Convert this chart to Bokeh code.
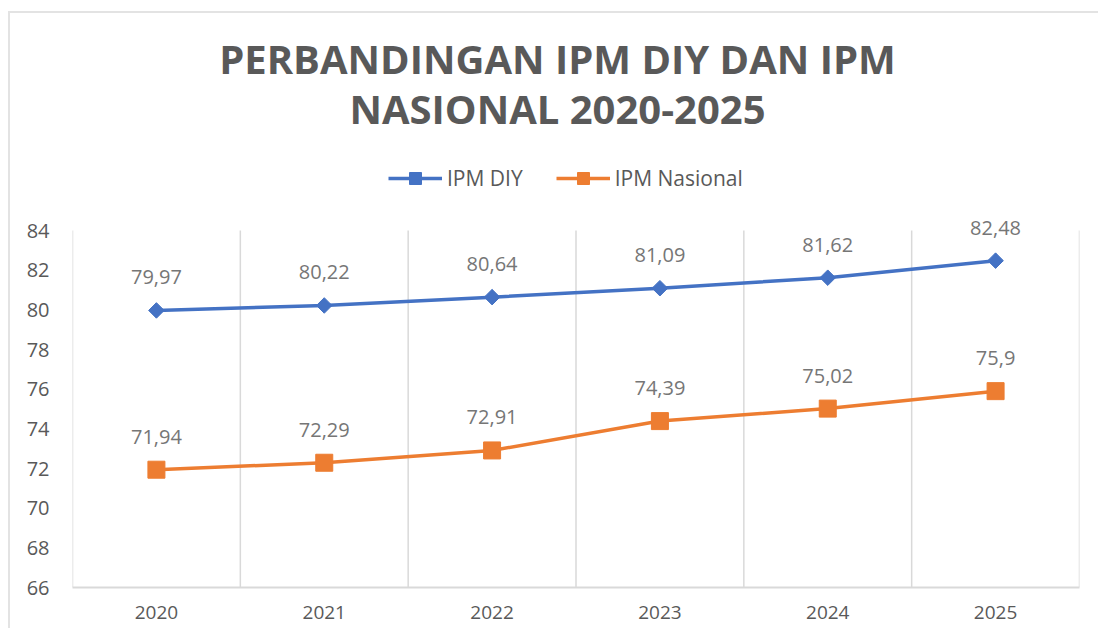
from bokeh.plotting import figure
from bokeh.models import Range1d, FixedTicker, Label, Legend, LegendItem, ColumnDataSource
from bokeh.embed import file_html
from bokeh.resources import INLINE
from bokeh.core.properties import value
import math

# ---- data ----
years = ["2020", "2021", "2022", "2023", "2024", "2025"]
ipm_diy = [79.97, 80.22, 80.64, 81.09, 81.62, 82.48]
ipm_nasional = [71.94, 72.29, 72.91, 74.39, 75.02, 75.9]
y_ticks = [66, 68, 70, 72, 74, 76, 78, 80, 82, 84]
title_line1 = "PERBANDINGAN IPM DIY DAN IPM"
title_line2 = "NASIONAL 2020-2025"


def fmt(v):
    return f"{v:g}".replace(".", ",")


xpos = [i + 0.5 for i in range(len(years))]
src = ColumnDataSource(dict(
    x=xpos,
    diy=ipm_diy,
    nas=ipm_nasional,
    diy_lbl=[fmt(v) for v in ipm_diy],
    nas_lbl=[fmt(v) for v in ipm_nasional],
))

FONT = "Open Sans"
BLUE = "#4472C4"
ORANGE = "#ED7D31"
GRAY_TXT = "#595959"
GRID = "#d9d9d9"

W, H = 1090, 617
FRAME_H = 574          # frame spans the whole height above the x axis
AXIS_TOP_PX = 217      # pixel row (from top) of the 84 line
y_top = y_ticks[-1] + AXIS_TOP_PX * (y_ticks[-1] - y_ticks[0]) / (FRAME_H - AXIS_TOP_PX)

p = figure(width=W, height=H, output_backend="svg", toolbar_location=None,
           x_range=Range1d(0, len(years)), y_range=Range1d(y_ticks[0], y_top),
           min_border_left=62, min_border_right=21, min_border_bottom=H - FRAME_H,
           min_border_top=0)

p.outline_line_color = None
p.background_fill_color = "white"
p.border_fill_color = "white"

# axes
p.xaxis.ticker = FixedTicker(ticks=xpos)
p.xaxis.major_label_overrides = {x: y for x, y in zip(xpos, years)}
p.xaxis.major_tick_line_color = None
p.xaxis.minor_tick_line_color = None
p.xaxis.axis_line_color = GRID
p.xaxis.axis_line_width = 2
p.xaxis.major_label_text_font = FONT
p.xaxis.major_label_text_font_size = "19px"
p.xaxis.major_label_text_color = GRAY_TXT
p.xaxis.major_label_standoff = 12

p.yaxis.ticker = FixedTicker(ticks=y_ticks)
p.yaxis.major_tick_line_color = None
p.yaxis.minor_tick_line_color = None
p.yaxis.axis_line_color = None
p.yaxis.major_label_text_font = FONT
p.yaxis.major_label_text_font_size = "20px"
p.yaxis.major_label_text_color = GRAY_TXT
p.yaxis.major_label_standoff = 17

p.ygrid.grid_line_color = None
p.xgrid.grid_line_color = None

# vertical category-boundary gridlines, from the lowest to the highest y tick
bounds = list(range(len(years) + 1))
p.segment(x0=bounds, x1=bounds, y0=[y_ticks[0]] * len(bounds), y1=[y_ticks[-1]] * len(bounds),
          line_color=GRID, line_width=1.5)

# series
l1 = p.line("x", "diy", source=src, line_color=BLUE, line_width=3.5)
m1 = p.scatter("x", "diy", source=src, marker="square", angle=math.pi / 4,
               size=11, fill_color=BLUE, line_color=BLUE)
l2 = p.line("x", "nas", source=src, line_color=ORANGE, line_width=3.5)
m2 = p.scatter("x", "nas", source=src, marker="square", size=17,
               fill_color=ORANGE, line_color=ORANGE)

for col, lbl in (("diy", "diy_lbl"), ("nas", "nas_lbl")):
    p.text("x", col, text=lbl, source=src, y_offset=-33,
           text_align="center", text_baseline="middle",
           text_font=value(FONT), text_font_size="20px", text_color="#767676")

legend = Legend(items=[LegendItem(label="IPM DIY", renderers=[l1, m1]),
                       LegendItem(label="IPM Nasional", renderers=[l2, m2])],
                orientation="horizontal", location=(316, 394),
                glyph_width=54, glyph_height=30, label_standoff=5, spacing=33,
                label_text_font=FONT, label_text_font_size="21px",
                label_text_color=GRAY_TXT, border_line_color=None,
                background_fill_alpha=0, padding=0, margin=0)
p.add_layout(legend)

for txt, yy in ((title_line1, 529), (title_line2, 479)):
    p.add_layout(Label(x=485, y=yy, x_units="screen", y_units="screen", text=txt,
                       text_align="center", text_baseline="middle",
                       text_font=FONT, text_font_style="bold",
                       text_font_size="40px", text_color=GRAY_TXT))

p.styles = {"margin-top": "11px", "margin-left": "8px",
            "border-top": "2px solid #e3e3e3", "border-left": "2px solid #e3e3e3"}

open("out.html", "w").write(file_html(p, INLINE))
